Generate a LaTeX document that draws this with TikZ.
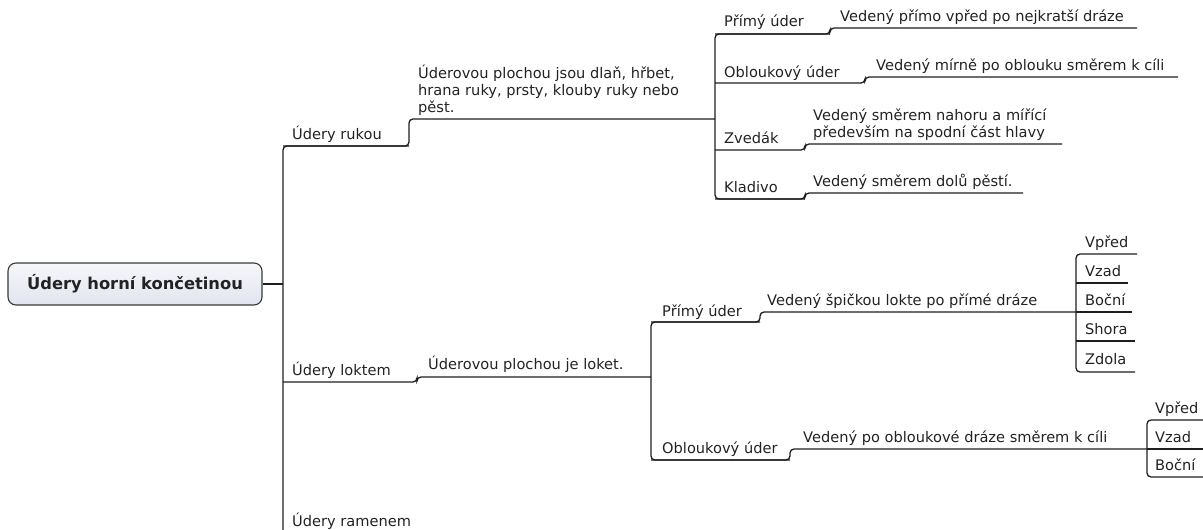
\documentclass[tikz,border=0pt]{standalone}
\usepackage{fontspec}
\setmainfont{DejaVu Sans}
\definecolor{ink}{HTML}{1E1E1E}
\definecolor{txt}{HTML}{222222}
\definecolor{boxtop}{HTML}{F6F7FB}
\definecolor{boxbot}{HTML}{E2E5EF}
\definecolor{boxline}{HTML}{3A3A3A}
\tikzset{
  conn/.style={draw=ink, line width=1.3pt, rounded corners=4pt},
  lbl/.style={anchor=base west, inner sep=0pt, text=txt, font=\fontsize{14.6}{17}\selectfont},
  mlbl/.style={lbl, align=left},
  rootbox/.style={draw=boxline, line width=1.1pt, rounded corners=8pt, top color=boxtop, bottom color=boxbot,
    minimum width=254pt, minimum height=42pt, inner sep=0pt, text=txt, font=\fontsize{16.3}{19}\selectfont\bfseries}
}
\begin{document}
\begin{tikzpicture}[x=1pt,y=-1pt]
\useasboundingbox (0,0) rectangle (1203,530);
\clip (0,0) rectangle (1203,530);

% ---------- root ----------
\node[rootbox] (root) at (135,284) {Údery horní končetinou};
\coordinate (tr) at (283,284);
\draw[conn] (root.east) -- (tr);

% ---------- level 1 ----------
\node[lbl] (rukou) at (292,139) {Údery rukou};
\node[lbl] (loktem) at (292,375) {Údery loktem};
\node[lbl] (ramenem) at (292,526) {Údery ramenem};

\coordinate (rukouL) at (283,146);
\coordinate (rukouS) at (409,146);
\coordinate (loktemL) at (283,382);
\coordinate (loktemS) at (417,382);
\coordinate (trB) at (283,532);

\draw[conn] (rukouS) -- (rukouL) -- (trB);

% ---------- Údery rukou subtree ----------
\node[mlbl] (ruDesc) at (418,112) {Úderovou plochou jsou dlaň, hřbet,\\hrana ruky, prsty, klouby ruky nebo\\pěst.};
\coordinate (ruJ) at (715,119);
\draw[conn] (rukouL) -- (rukouS) -- (409,119) -- (ruJ);

\coordinate (vA) at (715,34);
\coordinate (vD) at (715,199);
\draw[conn] (830,34) -- (vA) -- (vD) -- (805,199);

\node[lbl] (p1) at (724,27) {Přímý úder};
\node[lbl] (p1d) at (840,21) {Vedený přímo vpřed po nejkratší dráze};
\draw[conn] (vA) -- (830,34) -- (830,28) -- (1137,28);

\node[lbl] (o1) at (724,77) {Obloukový úder};
\node[lbl] (o1d) at (876,70) {Vedený mírně po oblouku směrem k cíli};
\coordinate (vB) at (715,83);
\draw[conn] (vB) -- (865,83) -- (865,77) -- (1178,77);

\node[lbl] (zv) at (724,143) {Zvedák};
\node[mlbl] (zvd) at (813,137) {Vedený směrem nahoru a mířící\\především na spodní část hlavy};
\coordinate (vC) at (715,150);
\draw[conn] (vC) -- (805,150) -- (805,144) -- (1062,144);

\node[lbl] (kl) at (724,192) {Kladivo};
\node[lbl] (kld) at (813,186) {Vedený směrem dolů pěstí.};
\draw[conn] (vD) -- (805,199) -- (805,193) -- (1023,193);

% ---------- Údery loktem subtree ----------
\node[lbl] (loDesc) at (428,369) {Úderovou plochou je loket.};
\coordinate (loJ) at (651,377);
\draw[conn] (loktemL) -- (loktemS) -- (417,377) -- (loJ);

\coordinate (wA) at (651,322);
\coordinate (wB) at (651,460);
\draw[conn] (760,322) -- (wA) -- (wB) -- (790,460);

\node[lbl] (p2) at (662,316) {Přímý úder};
\node[lbl] (p2d) at (767,305) {Vedený špičkou lokte po přímé dráze};
\coordinate (p2J) at (1076,312);
\draw[conn] (wA) -- (760,322) -- (760,312) -- (p2J);

\coordinate (xA) at (1076,254);
\coordinate (xE) at (1076,372);
\draw[conn] (1137,254) -- (xA) -- (xE) -- (1135,372);
\node[lbl] (x1) at (1085,247) {Vpřed};
\node[lbl] (x2) at (1085,276) {Vzad};
\node[lbl] (x3) at (1085,305) {Boční};
\node[lbl] (x4) at (1085,334) {Shora};
\node[lbl] (x5) at (1085,364) {Zdola};
\draw[conn] (1076,283) -- (1128,283);
\draw[conn] (p2J) -- (1132,312);
\draw[conn] (1076,341) -- (1135,341);

\node[lbl] (o2) at (662,453) {Obloukový úder};
\node[lbl] (o2d) at (803,442) {Vedený po obloukové dráze směrem k cíli};
\coordinate (o2J) at (1147,449);
\draw[conn] (wB) -- (790,460) -- (790,449) -- (o2J);

\coordinate (yA) at (1147,420);
\coordinate (yC) at (1147,477);
\draw[conn] (1205,420) -- (yA) -- (yC) -- (1205,477);
\node[lbl] (y1) at (1155,413) {Vpřed};
\node[lbl] (y2) at (1155,442) {Vzad};
\node[lbl] (y3) at (1155,470) {Boční};
\draw[conn] (o2J) -- (1205,449);
\end{tikzpicture}
\end{document}
